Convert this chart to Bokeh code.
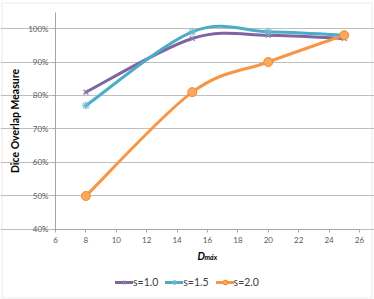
from bokeh.plotting import figure
from bokeh.models import (Range1d, FixedTicker, NumeralTickFormatter, Legend, LegendItem, Label,
                          ColumnDataSource, BoxAnnotation)
from bokeh.embed import file_html
from bokeh.resources import INLINE

# ---- data ----
d_max = [8, 15, 20, 25]
s10 = [0.81, 0.97, 0.98, 0.97]
s15 = [0.77, 0.99, 0.99, 0.98]
s20 = [0.50, 0.81, 0.90, 0.98]
series_labels = ["s=1.0", "s=1.5", "s=2.0"]
x_ticks = [6, 8, 10, 12, 14, 16, 18, 20, 22, 24, 26]
y_ticks = [0.4, 0.5, 0.6, 0.7, 0.8, 0.9, 1.0]

colors = ["#8064A2", "#4BACC6", "#F79646"]
marker_line = ["#8A7CA8", "#6FB9CF", "#F79646"]
markers = ["x", "asterisk", "circle"]
msize = [7, 8, 9]

FONT = "Lato"
X_MIN, X_MAX = 6, 26
Y_MIN, Y_MAX = 0.40, 1.0478
# the frame fills the whole canvas; axes are pinned at the plot-area edges
XR = (2.382, 26.987)
YR = (0.191, 1.0836)

p = figure(width=374, height=299, output_backend="svg", toolbar_location=None,
           x_range=Range1d(*XR), y_range=Range1d(*YR),
           min_border_left=0, min_border_right=0, min_border_top=0, min_border_bottom=0)
p.outline_line_color = None
p.background_fill_color = "white"
p.border_fill_color = "white"

# chart-area border
p.add_layout(BoxAnnotation(left=1.5, right=371.5, top=1.5, bottom=296.5,
                           left_units="screen", right_units="screen",
                           top_units="screen", bottom_units="screen",
                           fill_alpha=0, line_color="#C4C4C4", line_width=1.2))

p.xgrid.grid_line_color = None
p.ygrid.grid_line_color = "#BFBFBF"
p.ygrid.grid_line_width = 1
p.ygrid.ticker = FixedTicker(ticks=y_ticks)
p.ygrid.bounds = (X_MIN, X_MAX)

p.xaxis.ticker = FixedTicker(ticks=x_ticks)
p.xaxis.fixed_location = Y_MIN
p.xaxis.bounds = (X_MIN, X_MAX)
p.yaxis.ticker = FixedTicker(ticks=y_ticks)
p.yaxis.fixed_location = X_MIN
p.yaxis.bounds = (Y_MIN, Y_MAX)
p.yaxis.formatter = NumeralTickFormatter(format="0%")
for ax in (p.xaxis, p.yaxis):
    ax.axis_line_color = "#A6A6A6"
    ax.major_tick_line_color = "#A6A6A6"
    ax.major_tick_out = 3
    ax.major_tick_in = 0
    ax.minor_tick_line_color = None
    ax.major_label_text_font = FONT
    ax.major_label_text_font_size = "8px"
    ax.major_label_text_color = "#595959"
p.xaxis.major_label_standoff = 5
p.yaxis.major_label_standoff = 4

p.yaxis.axis_label = "Dice Overlap Measure"
p.yaxis.axis_label_text_font = FONT
p.yaxis.axis_label_text_font_style = "bold"
p.yaxis.axis_label_text_font_size = "10.5px"
p.yaxis.axis_label_text_color = "#000000"
p.yaxis.axis_label_standoff = 4


def smooth_segments(xs, ys):
    n = len(xs)
    out = dict(x0=[], y0=[], x1=[], y1=[], cx0=[], cy0=[], cx1=[], cy1=[])
    for i in range(n - 1):
        im1 = max(i - 1, 0)
        ip2 = min(i + 2, n - 1)
        out["x0"].append(xs[i]); out["y0"].append(ys[i])
        out["x1"].append(xs[i + 1]); out["y1"].append(ys[i + 1])
        out["cx0"].append(xs[i] + (xs[i + 1] - xs[im1]) / 6.0)
        out["cy0"].append(ys[i] + (ys[i + 1] - ys[im1]) / 6.0)
        out["cx1"].append(xs[i + 1] - (xs[ip2] - xs[i]) / 6.0)
        out["cy1"].append(ys[i + 1] - (ys[ip2] - ys[i]) / 6.0)
    return out


items = []
for k, ys in enumerate([s10, s15, s20]):
    src = ColumnDataSource(smooth_segments(d_max, ys))
    r_line = p.bezier(x0="x0", y0="y0", x1="x1", y1="y1", cx0="cx0", cy0="cy0",
                      cx1="cx1", cy1="cy1", source=src, line_color=colors[k],
                      line_width=3, line_cap="round")
    if markers[k] == "circle":
        r_m = p.scatter(d_max, ys, marker="circle", size=msize[k], fill_color="#F9A85E",
                        line_color="#F28A2E", line_width=1)
    else:
        r_m = p.scatter(d_max, ys, marker=markers[k], size=msize[k],
                        line_color=marker_line[k], line_width=1.5, line_alpha=0.8)
    items.append(LegendItem(label=series_labels[k], renderers=[r_line, r_m]))

legend = Legend(items=items, orientation="horizontal", location=(115, 11),
                glyph_width=18, glyph_height=12, label_standoff=0, spacing=7,
                padding=0, margin=0, border_line_color=None, background_fill_alpha=0,
                label_text_font=FONT, label_text_font_size="10.5px", label_text_color="#404040")
p.add_layout(legend, "center")

lab_d = Label(x=X_MIN, y=Y_MIN, x_offset=142, y_offset=-27, text="D", text_font=FONT,
              text_font_style="bold italic", text_font_size="10.5px", text_color="#000000",
              text_baseline="alphabetic")
lab_sub = Label(x=X_MIN, y=Y_MIN, x_offset=149, y_offset=-28, text="máx", text_font=FONT,
                text_font_style="bold italic", text_font_size="7px", text_color="#000000",
                text_baseline="alphabetic")
p.add_layout(lab_d)
p.add_layout(lab_sub)

open("out.html", "w").write(file_html(p, INLINE))
